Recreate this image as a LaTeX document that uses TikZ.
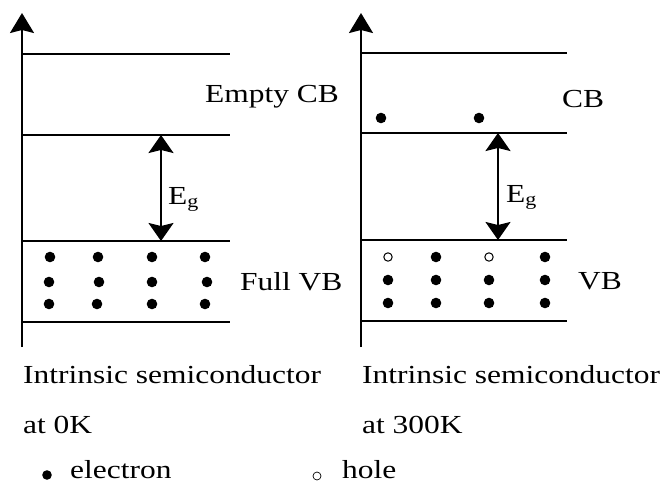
\documentclass[tikz,border=0pt]{standalone}
\usepackage{fontspec}
\setmainfont{Liberation Serif}[FakeStretch=1.21]
\usetikzlibrary{arrows.meta}
\begin{document}
\begin{tikzpicture}[x=1pt,y=-1pt,
  band/.style={line width=1.6pt},
  axis/.style={line width=1.8pt,-{Stealth[length=20pt,width=24pt,inset=3pt]}},
  gap/.style={line width=1.6pt,{Stealth[length=18pt,width=25pt,inset=3pt]}-{Stealth[length=18pt,width=25pt,inset=3pt]}},
  txt/.style={font=\fontsize{26}{30}\selectfont,inner sep=0pt,anchor=base west},
  el/.style={fill=black},
  hl/.style={draw=black,line width=1pt,fill=white}]
\useasboundingbox (0,0) rectangle (665,483);
% ---------- left diagram ----------
\coordinate (LA0) at (22,347);
\coordinate (LA1) at (22,13);
\draw[axis] (LA0) -- (LA1);
\foreach \y/\n in {54/1,135/2,241/3,322/4}{
  \coordinate (L\n a) at (22,\y);
  \coordinate (L\n b) at (230,\y);
  \draw[band] (L\n a) -- (L\n b);
}
\coordinate (LEt) at (161,135);
\coordinate (LEb) at (161,241);
\draw[gap] (LEb) -- (LEt);
\node[txt] (LEg) at (168,204) {E\textsubscript{g}};
\node[txt] (LCB) at (205,102) {Empty CB};
\node[txt] (LVB) at (240,290) {Full VB};
\foreach \x/\y in {50/257,98/257,152/257,205/257,
                   49/282,99/282,152/282,207/282,
                   49/304,97/304,152/304,205/304}{
  \fill[el] (\x,\y) circle (5.3);
}
% ---------- right diagram ----------
\coordinate (RA0) at (361,347);
\coordinate (RA1) at (361,13);
\draw[axis] (RA0) -- (RA1);
\foreach \y/\n in {53/1,133/2,240/3,321/4}{
  \coordinate (R\n a) at (361,\y);
  \coordinate (R\n b) at (567,\y);
  \draw[band] (R\n a) -- (R\n b);
}
\coordinate (REt) at (498,133);
\coordinate (REb) at (498,240);
\draw[gap] (REb) -- (REt);
\node[txt] (REg) at (506,202) {E\textsubscript{g}};
\node[txt] (RCB) at (562,107) {CB};
\node[txt] (RVB) at (578,289) {VB};
\fill[el] (381,118) circle (5.3);
\fill[el] (479,118) circle (5.3);
\foreach \x/\y in {436/257,545/257,
                   388/280,436/280,489/280,545/280,
                   388/303,436/303,489/303,545/303}{
  \fill[el] (\x,\y) circle (5.3);
}
\draw[hl] (388,257) circle (4.2);
\draw[hl] (489,257) circle (4.2);
% ---------- captions ----------
\node[txt] (C1a) at (23,383) {Intrinsic semiconductor};
\node[txt] (C1b) at (23,433) {at 0K};
\node[txt] (C2a) at (362,383) {Intrinsic semiconductor};
\node[txt] (C2b) at (362,433) {at 300K};
% ---------- legend ----------
\fill[el] (47,475) circle (4.8);
\node[txt] (Lel) at (70,478) {electron};
\draw[hl,line width=0.7pt] (317,476) circle (4);
\node[txt] (Lho) at (342,478) {hole};
\end{tikzpicture}
\end{document}
